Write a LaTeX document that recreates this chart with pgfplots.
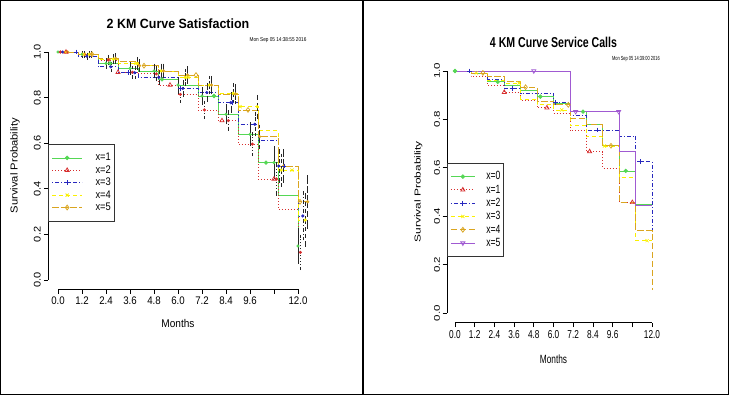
\documentclass[border=0pt]{standalone}
\usepackage{fontspec}
\setmainfont{Liberation Sans}
\usepackage{pgfplots}
\pgfplotsset{compat=1.18}
\definecolor{kmgreen}{RGB}{85,215,85}
\definecolor{kmred}{RGB}{215,45,45}
\definecolor{kmblue}{RGB}{40,40,190}
\definecolor{kmyellow}{RGB}{250,240,0}
\definecolor{kmorange}{RGB}{218,165,32}
\definecolor{kmpurple}{RGB}{160,90,210}
\tikzset{
  ltysolid/.style={solid},
  ltydot/.style={dash pattern=on 1pt off 2pt},
  ltydotdash/.style={dash pattern=on 1pt off 2pt on 4pt off 2pt},
  ltydash/.style={dash pattern=on 4pt off 3pt},
  ltylong/.style={dash pattern=on 6.5pt off 2.5pt},
}
\pgfplotsset{
  every axis title shift=0pt,
  kmaxis/.style={
    scale only axis, anchor=south west,
    xmin=-0.48, xmax=12.48, ymin=-0.04, ymax=1.04,
    axis lines*=left, axis line style={draw=none}, clip=false,
    xtick={0,1.2,2.4,3.6,4.8,6,7.2,8.4,9.6,10.8,12},
    xticklabels={0.0,1.2,2.4,3.6,4.8,6.0,7.2,8.4,9.6,,12.0},
    ytick={0,0.2,0.4,0.6,0.8,1},
    yticklabels={0.0,0.2,0.4,0.6,0.8,1.0},
    tick align=outside, major tick length=4.5pt,
    tick style={black, line width=0.7pt},
    legend cell align=left,
  },
  curve/.style={const plot, line width=0.8pt, forget plot},
  sym/.style={only marks, forget plot, mark size=2.4pt, mark options={solid, line width=0.7pt}},
  dots/.style={only marks, forget plot, mark=*, mark size=1.4pt, mark options={solid},
     /pgfplots/error bars/y dir=both, /pgfplots/error bars/y explicit,
     /pgfplots/error bars/error bar style={black!85, line width=0.45pt, #1},
     /pgfplots/error bars/error mark options={black!85, line width=0.45pt, mark size=1.7pt, solid}},
}
\begin{document}
\begin{tikzpicture}
\path[use as bounding box] (0pt,0pt) rectangle (730pt,395pt);
\draw[line width=1.3pt] (0.65pt,0.65pt) rectangle (363pt,394.35pt);
\draw[line width=1.3pt] (363pt,0.65pt) rectangle (728.3pt,394.35pt);

% ---------------- LEFT PANEL ----------------
\begin{axis}[kmaxis,
  at={(48.4pt,105.9pt)}, width=259.2pt, height=246.2pt,
  ticklabel style={font=\fontsize{11}{12}\selectfont},
  xticklabel style={xscale=0.88},
  yticklabel style={xscale=0.88, rotate=90, anchor=south},
  title={2 KM Curve Satisfaction},
  title style={at={(axis description cs:0.5,1.077)}, anchor=center, font=\bfseries\fontsize{13.4}{15}\selectfont, xscale=0.93},
  xlabel={Months},
  xlabel style={at={(axis description cs:0.5,-0.138)}, anchor=center, font=\fontsize{11.2}{12}\selectfont, xscale=0.9},
  every axis y label/.style={at={(axis description cs:-0.129,0.502)}, anchor=center, font=\fontsize{11.2}{12}\selectfont, xscale=0.9, rotate=90},
  ylabel={Survival Probability},
  legend image code/.code={\draw[mark repeat=2,mark phase=2,#1] plot coordinates {(0pt,0pt) (15pt,0pt) (30pt,0pt)};},
  legend style={at={(axis description cs:0,0.589)}, anchor=north west, draw=black!80, line width=0.7pt,
    font=\fontsize{11}{12}\selectfont, inner xsep=3pt, inner ysep=8pt, row sep=1.4pt,
    nodes={inner xsep=0pt, inner ysep=0pt, text height=8.5pt, text depth=2.5pt},
    /tikz/every odd column/.append style={column sep=13pt}},
]
\addlegendimage{kmgreen, line width=0.8pt, solid, mark=*, mark size=1.8pt}
\addlegendentry{\scalebox{0.85}[1]{x=1}\hspace{14pt}}
\addlegendimage{kmred, line width=0.8pt, ltydot, mark=triangle, mark size=2.4pt, mark options={solid}}
\addlegendentry{\scalebox{0.85}[1]{x=2}}
\addlegendimage{kmblue, line width=0.8pt, ltydotdash, mark=+, mark size=2.4pt, mark options={solid}}
\addlegendentry{\scalebox{0.85}[1]{x=3}}
\addlegendimage{kmyellow, line width=0.8pt, ltydash, mark=x, mark size=2.2pt, mark options={solid}}
\addlegendentry{\scalebox{0.85}[1]{x=4}}
\addlegendimage{kmorange, line width=0.8pt, ltylong, mark=diamond, mark size=2.4pt, mark options={solid}}
\addlegendentry{\scalebox{0.85}[1]{x=5}}

% curves
\addplot[kmgreen, curve, ltysolid] coordinates {(0,1) (1,0.99) (2,0.95) (3,0.928) (4,0.917) (5,0.88) (6,0.855) (7,0.807) (8,0.727) (9,0.639) (10,0.515) (11,0.37) (12,0.149) (12.02,0.149)};
\addplot[kmred, curve, ltydot] coordinates {(0,1) (1,0.99) (2,0.965) (3,0.911) (4,0.904) (5,0.855) (6,0.814) (7,0.746) (8,0.699) (9,0.596) (10,0.443) (11,0.311) (12,0.121) (12.12,0.121)};
\addplot[kmblue, curve, ltydotdash] coordinates {(0,1) (1,0.982) (2,0.935) (3,0.909) (4,0.889) (5,0.889) (6,0.84) (7,0.822) (8,0.778) (9,0.683) (10,0.614) (11,0.5) (12,0.281) (12.24,0.281)};
\addplot[kmyellow, curve, ltydash] coordinates {(0,1) (1,0.99) (2,0.969) (3,0.95) (4,0.94) (5,0.917) (6,0.889) (7,0.855) (8,0.819) (9,0.76) (10,0.654) (11,0.482) (12,0.263) (12.36,0.263)};
\addplot[kmorange, curve, ltylong] coordinates {(0,1) (1,0.99) (2,0.972) (3,0.958) (4,0.94) (5,0.917) (6,0.899) (7,0.855) (8,0.816) (9,0.746) (10,0.629) (11,0.5) (12,0.343) (12.48,0.343)};

% confidence bars with dots
\addplot[kmgreen, dots=solid] coordinates {(1.2,0.99) +- (0,0.008) (2.4,0.95) +- (0,0.015) (3.6,0.928) +- (0,0.02) (4.8,0.917) +- (0,0.025) (6.0,0.855) +- (0,0.03) (7.2,0.807) +- (0,0.033) (8.4,0.727) +- (0,0.037) (9.6,0.639) +- (0,0.045) (10.8,0.515) +- (0,0.065) (12.0,0.149) +- (0,0.07)};
\addplot[kmred, dots=ltydot] coordinates {(1.32,0.99) +- (0,0.008) (2.52,0.965) +- (0,0.015) (3.72,0.911) +- (0,0.02) (4.92,0.904) +- (0,0.025) (6.12,0.814) +- (0,0.03) (7.32,0.746) +- (0,0.033) (8.52,0.699) +- (0,0.037) (9.72,0.596) +- (0,0.045) (10.92,0.443) +- (0,0.065) (12.12,0.121) +- (0,0.07)};
\addplot[kmblue, dots=ltydotdash] coordinates {(1.44,0.982) +- (0,0.008) (2.64,0.935) +- (0,0.015) (3.84,0.909) +- (0,0.02) (5.04,0.889) +- (0,0.025) (6.24,0.84) +- (0,0.03) (7.44,0.822) +- (0,0.033) (8.64,0.778) +- (0,0.037) (9.84,0.683) +- (0,0.045) (11.04,0.5) +- (0,0.065) (12.24,0.281) +- (0,0.1)};
\addplot[kmyellow, dots=ltydash] coordinates {(1.56,0.99) +- (0,0.008) (2.76,0.969) +- (0,0.015) (3.96,0.95) +- (0,0.02) (5.16,0.917) +- (0,0.025) (6.36,0.889) +- (0,0.03) (7.56,0.855) +- (0,0.033) (8.76,0.819) +- (0,0.037) (9.96,0.76) +- (0,0.045) (11.16,0.482) +- (0,0.065) (12.36,0.263) +- (0,0.11)};
\addplot[kmorange, dots=ltylong] coordinates {(1.68,0.99) +- (0,0.008) (2.88,0.972) +- (0,0.015) (4.08,0.94) +- (0,0.02) (5.28,0.917) +- (0,0.025) (6.48,0.899) +- (0,0.03) (7.68,0.855) +- (0,0.033) (8.88,0.816) +- (0,0.037) (10.08,0.629) +- (0,0.045) (11.28,0.5) +- (0,0.065) (12.48,0.343) +- (0,0.11)};
% dots at time zero
\addplot[kmgreen, only marks, forget plot, mark=*, mark size=1.4pt] coordinates {(0,1)};
\addplot[kmred, only marks, forget plot, mark=*, mark size=1.4pt] coordinates {(0.12,1)};
\addplot[kmblue, only marks, forget plot, mark=*, mark size=1.4pt] coordinates {(0.24,1)};
\addplot[kmyellow, only marks, forget plot, mark=*, mark size=1.4pt] coordinates {(0.36,1)};
\addplot[kmorange, only marks, forget plot, mark=*, mark size=1.4pt] coordinates {(0.48,1)};

% curve symbols
\addplot[kmgreen, sym, mark=*, mark size=1.8pt] coordinates {(2.6,0.95) (5.2,0.88) (7.8,0.807) (10.4,0.515)};
\addplot[kmred, sym, mark=triangle] coordinates {(0.4,1) (3.0,0.911) (5.6,0.855) (8.2,0.699) (10.8,0.443)};
\addplot[kmblue, sym, mark=+] coordinates {(0.9,1) (3.5,0.909) (6.1,0.84) (8.7,0.778) (11.3,0.5)};
\addplot[kmyellow, sym, mark=x, mark size=2.2pt] coordinates {(1.3,0.99) (3.9,0.95) (6.5,0.889) (9.1,0.76) (11.7,0.482)};
\addplot[kmorange, sym, mark=diamond] coordinates {(1.7,0.99) (4.3,0.94) (6.9,0.899) (9.5,0.746) (12.1,0.343)};

\draw[black, line width=0.7pt] (axis cs:0,-0.04) -- (axis cs:12,-0.04);
\draw[black, line width=0.7pt] (axis cs:-0.48,0) -- (axis cs:-0.48,1);
\node[font=\fontsize{5.6}{6}\selectfont, xscale=0.84] at (axis description cs:0.886,1.012) {Mon Sep 05 14:38:55 2016};
\end{axis}

% ---------------- RIGHT PANEL ----------------
\begin{axis}[kmaxis,
  at={(447.1pt,72.3pt)}, width=212.8pt, height=261.4pt,
  ticklabel style={font=\fontsize{11.5}{12}\selectfont},
  xticklabel style={xscale=0.72},
  yticklabel style={xscale=0.72, rotate=90, anchor=south},
  title={4 KM Curve Service Calls},
  title style={at={(axis description cs:0.5,1.074)}, anchor=center, font=\bfseries\fontsize{14.3}{16}\selectfont, xscale=0.74},
  xlabel={Months},
  xlabel style={at={(axis description cs:0.5,-0.14)}, anchor=center, font=\fontsize{11.9}{13}\selectfont, xscale=0.70},
  every axis y label/.style={at={(axis description cs:-0.135,0.501)}, anchor=center, font=\fontsize{11.9}{13}\selectfont, xscale=0.72, rotate=90},
  ylabel={Survival Probability},
  legend image code/.code={\draw[mark repeat=2,mark phase=2,#1] plot coordinates {(0pt,0pt) (12pt,0pt) (24pt,0pt)};},
  legend style={at={(axis description cs:0,0.611)}, anchor=north west, draw=black!80, line width=0.7pt,
    font=\fontsize{11.9}{13}\selectfont, inner xsep=3pt, inner ysep=7.5pt, row sep=1.8pt,
    nodes={inner xsep=0pt, inner ysep=0pt, text height=9pt, text depth=2.5pt},
    /tikz/every odd column/.append style={column sep=11pt}},
]
\addlegendimage{kmgreen, line width=0.8pt, solid, mark=*, mark size=1.8pt}
\addlegendentry{\scalebox{0.72}[1]{x=0}\hspace{11pt}}
\addlegendimage{kmred, line width=0.8pt, ltydot, mark=triangle, mark size=2.4pt, mark options={solid}}
\addlegendentry{\scalebox{0.72}[1]{x=1}}
\addlegendimage{kmblue, line width=0.8pt, ltydotdash, mark=+, mark size=2.4pt, mark options={solid}}
\addlegendentry{\scalebox{0.72}[1]{x=2}}
\addlegendimage{kmyellow, line width=0.8pt, ltydash, mark=x, mark size=2.2pt, mark options={solid}}
\addlegendentry{\scalebox{0.72}[1]{x=3}}
\addlegendimage{kmorange, line width=0.8pt, ltylong, mark=diamond, mark size=2.4pt, mark options={solid}}
\addlegendentry{\scalebox{0.72}[1]{x=4}}
\addlegendimage{kmpurple, line width=0.8pt, solid, mark=triangle, mark size=2.4pt, mark options={solid, rotate=180}}
\addlegendentry{\scalebox{0.72}[1]{x=5}}

\addplot[kmgreen, curve, ltysolid] coordinates {(0,1) (1,0.988) (2,0.955) (3,0.94) (4,0.92) (5,0.894) (6,0.866) (7,0.832) (8,0.78) (9,0.691) (10,0.587) (11,0.449) (12,0.449)};
\addplot[kmred, curve, ltydot] coordinates {(0,1) (1,0.977) (2,0.94) (3,0.912) (4,0.88) (5,0.848) (6,0.825) (7,0.753) (8,0.667) (9,0.598) (10,0.457) (11,0.34) (12,0.34)};
\addplot[kmblue, curve, ltydotdash] coordinates {(0,1) (1,0.99) (2,0.966) (3,0.928) (4,0.908) (5,0.908) (6,0.871) (7,0.818) (8,0.756) (9,0.756) (10,0.731) (11,0.625) (12,0.34)};
\addplot[kmyellow, curve, ltydash] coordinates {(0,1) (1,0.992) (2,0.96) (3,0.95) (4,0.883) (5,0.86) (6,0.839) (7,0.774) (8,0.729) (9,0.69) (10,0.561) (11,0.299) (12,0.299)};
\addplot[kmorange, curve, ltylong] coordinates {(0,1) (1,0.992) (2,0.977) (3,0.955) (4,0.933) (5,0.873) (6,0.86) (7,0.804) (8,0.781) (9,0.691) (10,0.457) (11,0.34) (12,0.095)};
\addplot[kmpurple, curve, ltysolid] coordinates {(0,1) (7,0.832) (10,0.667) (11,0.446) (12,0.446)};

\addplot[kmgreen, sym, mark=*, mark size=1.8pt] coordinates {(0,1) (2.6,0.955) (5.2,0.894) (7.8,0.832) (10.4,0.587)};
\addplot[kmred, sym, mark=triangle] coordinates {(3.0,0.912) (5.6,0.848) (8.2,0.667) (10.8,0.457)};
\addplot[kmblue, sym, mark=+] coordinates {(0.9,1) (3.5,0.928) (6.1,0.871) (8.7,0.756) (11.3,0.625)};
\addplot[kmyellow, sym, mark=x, mark size=2.2pt] coordinates {(1.3,0.992) (3.9,0.95) (6.5,0.839) (9.1,0.69) (11.7,0.299)};
\addplot[kmorange, sym, mark=diamond] coordinates {(1.7,0.992) (4.3,0.933) (6.9,0.86) (9.5,0.691)};
\addplot[kmpurple, sym, mark=triangle, mark options={solid, rotate=180, line width=0.7pt}] coordinates {(4.8,1) (7.35,0.832) (9.97,0.832)};

\draw[black, line width=0.7pt] (axis cs:0,-0.04) -- (axis cs:12,-0.04);
\draw[black, line width=0.7pt] (axis cs:-0.48,0) -- (axis cs:-0.48,1);
\node[font=\fontsize{5.9}{6}\selectfont, xscale=0.67] at (axis description cs:0.887,1.009) {Mon Sep 05 14:39:00 2016};
\end{axis}
\end{tikzpicture}
\end{document}
